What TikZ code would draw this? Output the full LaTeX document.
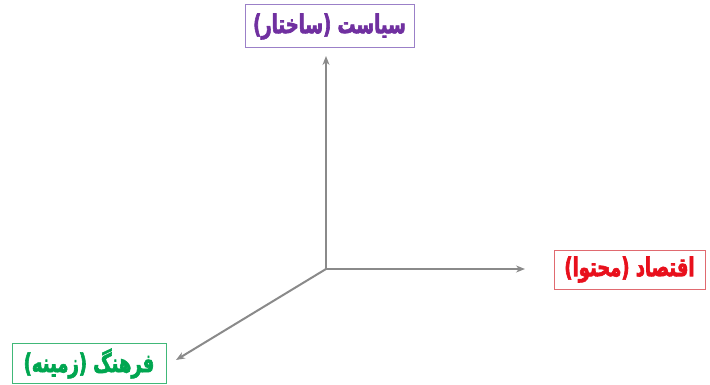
\documentclass[tikz,border=0pt]{standalone}
\usepackage{fontspec}
\usetikzlibrary{arrows.meta}
\TeXXeTstate=1
\newfontfamily\arabicfont[Script=Arabic,FakeStretch=0.69,FakeBold=2.4]{DejaVu Sans}
\definecolor{polpurple}{HTML}{7030A0}
\definecolor{polframe}{HTML}{9B80C8}
\definecolor{ecored}{HTML}{E8101C}
\definecolor{ecoframe}{HTML}{E06A70}
\definecolor{culgreen}{HTML}{00A650}
\definecolor{culframe}{HTML}{40B878}
\definecolor{axisgray}{HTML}{8A8A8A}
\tikzset{
  label box/.style={draw, line width=1pt, inner sep=0pt, align=center,
    font=\arabicfont\bfseries\fontsize{26}{28}\selectfont},
  axis/.style={draw=axisgray, line width=2pt, -{Stealth[length=9pt,width=7pt]}}
}
\begin{document}
\begin{tikzpicture}[x=1pt,y=-1pt]
  \useasboundingbox (0,0) rectangle (710,385);
  % the three labelled axes
  \node[label box, draw=polframe, text=polpurple, minimum width=169pt, minimum height=43pt]
    (pol) at (329.5,26.5) {\beginR سیاست (ساختار)\endR};
  \node[label box, draw=ecoframe, text=ecored, minimum width=151pt, minimum height=39pt]
    (eco) at (629.5,269.5) {\beginR اقتصاد (محتوا)\endR};
  \node[label box, draw=culframe, text=culgreen, minimum width=154pt, minimum height=40pt]
    (cul) at (89,363.5) {\beginR فرهنگ (زمینه)\endR};
  \coordinate (o) at (326,269);
  \coordinate (up) at (326,56);
  \coordinate (right) at (525,269);
  \coordinate (down) at (176,360);
  \draw[axis] (o) -- (up);
  \draw[axis] (o) -- (right);
  \draw[axis] (o) -- (down);
\end{tikzpicture}
\end{document}
